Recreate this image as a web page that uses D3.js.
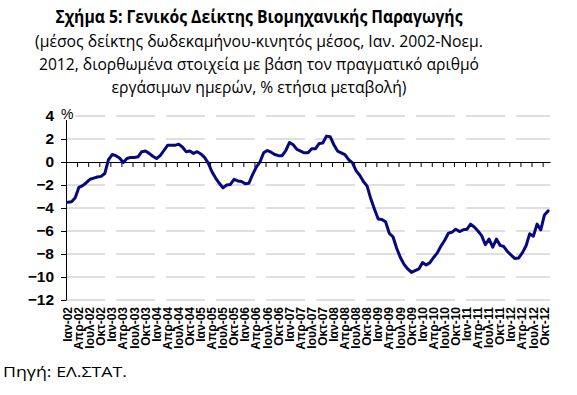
<!DOCTYPE html>
<html>
<head>
<meta charset="utf-8">
<script src="https://cdn.jsdelivr.net/npm/d3@7"></script>
<style>
  body { margin: 0; background: #fff; }
  .axis text { font-family: "Liberation Sans", Arial, sans-serif; font-weight: bold; fill: #000; }
  .axis path, .axis line { stroke: #000; }
</style>
</head>
<body>
<div id="viz"></div>
<script>
// month names and years for the category axis (Ιαν 2002 - Νοε 2012)
var monthNames = ["Ιαν", "Φεβ", "Μαρ", "Απρ", "Μαϊ", "Ιουν", "Ιουλ", "Αυγ", "Σεπ", "Οκτ", "Νοε", "Δεκ"];
var years = ["02", "03", "04", "05", "06", "07", "08", "09", "10", "11", "12"];

// 12-month moving average, % yoy change
var values = [
  -3.5, -3.45, -3.1, -2.2, -2.05, -1.8, -1.5, -1.4, -1.3, -1.25, -1.0, 0.2,
  0.65, 0.55, 0.35, -0.05, 0.3, 0.4, 0.4, 0.45, 0.9, 0.95, 0.75, 0.5,
  0.3, 0.55, 1.0, 1.45, 1.45, 1.45, 1.55, 1.3, 0.9, 0.95, 0.75, 0.9,
  0.7, 0.4, -0.1, -0.85, -1.4, -1.85, -2.25, -2.0, -1.95, -1.5, -1.65, -1.7,
  -1.9, -1.85, -1.1, -0.45, 0.0, 0.8, 1.0, 0.85, 0.65, 0.55, 0.55, 1.0,
  1.7, 1.5, 1.1, 0.95, 0.8, 0.8, 1.15, 1.15, 1.6, 1.65, 2.25, 2.2,
  1.5, 0.95, 0.8, 0.65, 0.2, -0.05, -0.75, -1.15, -1.7, -2.1, -3.2, -4.1,
  -4.95, -5.0, -5.2, -6.2, -6.5, -7.5, -8.3, -8.9, -9.3, -9.6, -9.45, -9.3,
  -8.75, -8.95, -8.75, -8.3, -7.9, -7.3, -6.8, -6.2, -6.1, -5.85, -6.05, -5.9,
  -5.85, -5.4, -5.65, -6.0, -6.4, -7.2, -6.7, -7.4, -6.7, -7.25, -7.35, -7.8,
  -8.1, -8.4, -8.35, -7.9, -7.3, -6.25, -6.45, -5.4, -5.9, -4.6, -4.25
];

var yTicks = [-12, -10, -8, -6, -4, -2, 0, 2, 4];

var title = "Σχήμα 5: Γενικός Δείκτης Βιομηχανικής Παραγωγής";
var subtitle = [
  "(μέσος δείκτης δωδεκαμήνου-κινητός μέσος, Ιαν. 2002-Νοεμ.",
  "2012, διορθωμένα στοιχεία με βάση τον πραγματικό αριθμό",
  "εργάσιμων ημερών, % ετήσια μεταβολή)"
];
var source = "Πηγή: ΕΛ.ΣΤΑΤ.";

var months = [];
years.forEach(function(yr) {
  monthNames.forEach(function(m) { months.push(m + "-" + yr); });
});
months = months.slice(0, values.length);
var quarterLabels = months.filter(function(d, i) { return i % 3 === 0; });

var width = 577, height = 395;
var plotLeft = 66, plotRight = 550, plotTop = 116, plotBottom = 300;

var svg = d3.select("#viz").append("svg")
    .attr("width", width)
    .attr("height", height)
    .style("font-family", "'Open Sans', 'Noto Sans', sans-serif");

var x = d3.scaleBand().domain(months).range([plotLeft, plotRight]);
var xi = d3.scaleLinear().domain([0, months.length]).range([plotLeft, plotRight]);
var y = d3.scaleLinear().domain([-12, 4]).range([plotBottom, plotTop]);

// squeeze a text to the width it has in the original
function fit(t, w) {
  t.attr("textLength", w).attr("lengthAdjust", "spacingAndGlyphs");
}

// titles
fit(svg.append("text")
    .attr("x", 259 - 407 / 2).attr("y", 23)
    .style("font-weight", "bold")
    .style("font-size", "18px")
    .text(title), 407);

var subW = [448, 440, 295];
subtitle.forEach(function(s, i) {
  fit(svg.append("text")
      .attr("x", 259 - subW[i] / 2).attr("y", 47 + i * 23)
      .style("font-size", "17px")
      .text(s), subW[i]);
});

// gridlines
svg.append("g").selectAll("line")
    .data(yTicks.filter(function(d) { return d !== 0; }))
    .enter().append("line")
      .attr("x1", plotLeft).attr("x2", plotRight)
      .attr("y1", function(d) { return y(d); })
      .attr("y2", function(d) { return y(d); })
      .attr("stroke", "#c0c0c0")
      .attr("stroke-width", 1)
      .attr("stroke-dasharray", "39,11");

// y axis
var yAxis = svg.append("g")
    .attr("class", "axis")
    .attr("transform", "translate(" + plotLeft + ",0)")
    .call(d3.axisLeft(y).tickValues(yTicks).tickSize(5).tickSizeOuter(0).tickPadding(7));
yAxis.selectAll("text").style("font-size", "15.5px");

// % label with white background
svg.append("rect").attr("x", 61).attr("y", 107).attr("width", 14).attr("height", 13).attr("fill", "#fff");
svg.append("text")
    .attr("x", 61).attr("y", 119)
    .style("font-family", "'Liberation Sans', Arial, sans-serif")
    .style("font-size", "14px")
    .text("%");

// x axis at zero: quarterly tick marks between categories
svg.append("g")
    .attr("class", "axis")
    .attr("transform", "translate(0," + y(0) + ")")
    .call(d3.axisBottom(xi).tickValues(d3.range(3, months.length, 3)).tickSize(5).tickSizeOuter(0).tickFormat(""));

// category labels at the bottom
var xLab = svg.append("g")
    .attr("class", "axis")
    .attr("transform", "translate(0," + plotBottom + ")")
    .call(d3.axisBottom(x).tickValues(quarterLabels).tickSize(0).tickSizeOuter(0));
xLab.select(".domain").remove();
xLab.selectAll("text")
    .style("font-size", "12px")
    .style("text-anchor", "end")
    .attr("x", -7)
    .attr("y", 0)
    .attr("dy", ".35em")
    .attr("transform", "rotate(-90)");

// series
var line = d3.line()
    .x(function(d, i) { return x(months[i]) + x.bandwidth() / 2; })
    .y(function(d) { return y(d); });

svg.append("path")
    .datum(values)
    .attr("d", line)
    .attr("fill", "none")
    .attr("stroke", "#08087a")
    .attr("stroke-width", 3)
    .attr("stroke-linejoin", "round")
    .attr("stroke-linecap", "round");

// source
fit(svg.append("text")
    .attr("x", 3).attr("y", 377)
    .style("font-size", "15px")
    .text(source), 124);
</script>
</body>
</html>
